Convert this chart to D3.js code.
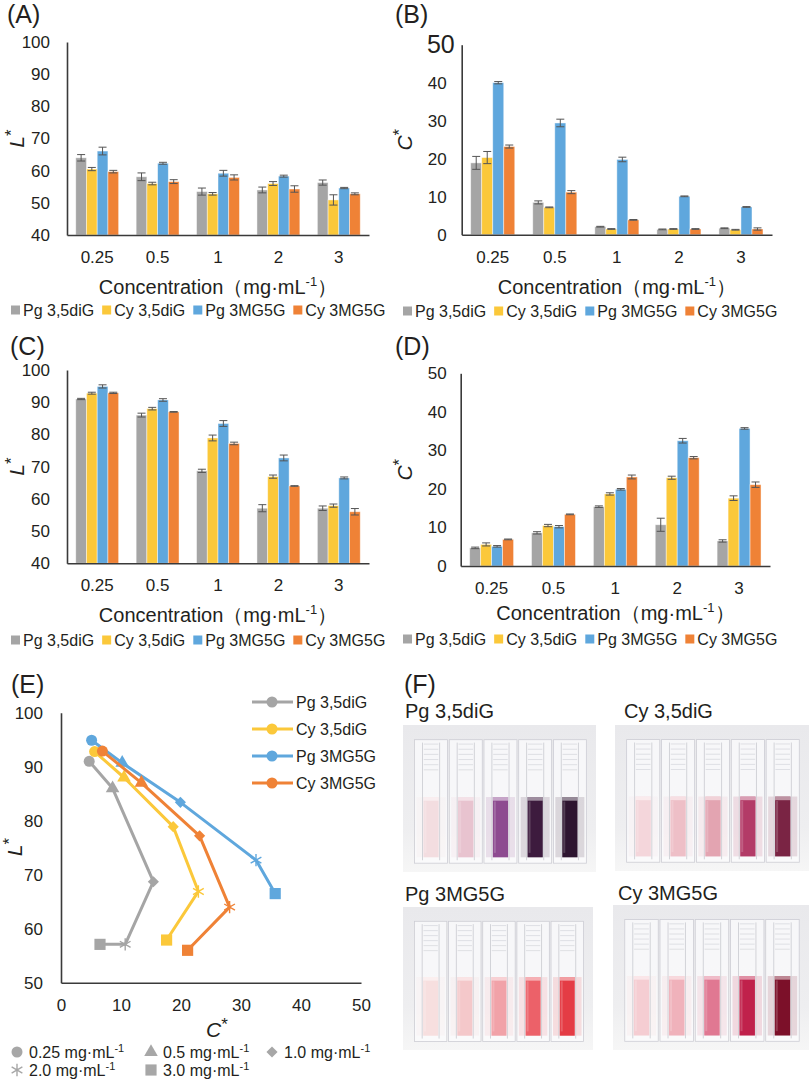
<!DOCTYPE html>
<html>
<head>
<meta charset="utf-8">
<script src="https://cdn.jsdelivr.net/npm/d3@7"></script>
<style>
  body { margin: 0; background: #fff; }
  svg { font-family: "Liberation Sans", Arial, Helvetica, sans-serif; }
</style>
</head>
<body>
<svg id="fig" width="810" height="1080"></svg>
<script>
// ---- data ----
var concentrations = ["0.25", "0.5", "1", "2", "3"];
var seriesNames = ["Pg 3,5diG", "Cy 3,5diG", "Pg 3MG5G", "Cy 3MG5G"];
var seriesColors = ["#a5a5a5", "#fbc83a", "#5fa7dd", "#ef8236"];
var lightTicks = [40, 50, 60, 70, 80, 90, 100];
var chromaTicks = [0, 10, 20, 30, 40, 50];

// (A) L*  (one row per series, one value per concentration)
var lightA = [
  [64.0, 58.1, 53.5, 54.0, 56.3],
  [60.5, 56.0, 52.8, 56.0, 50.9],
  [66.1, 62.3, 59.2, 58.3, 54.6],
  [59.7, 56.6, 57.9, 54.3, 52.8]
];
var lightAErr = [
  [1.0, 1.2, 1.1, 0.9, 0.8],
  [0.5, 0.4, 0.4, 0.6, 1.6],
  [1.2, 0.3, 0.9, 0.3, 0.2],
  [0.4, 0.6, 0.8, 1.0, 0.3]
];
// (B) C*
var chromaB = [
  [18.9, 8.5, 2.1, 1.4, 1.7],
  [20.3, 7.2, 1.5, 1.5, 1.3],
  [40.0, 29.4, 19.8, 10.1, 7.3],
  [23.2, 11.2, 3.9, 1.5, 1.5]
];
var chromaBErr = [
  [1.7, 0.4, 0.1, 0.1, 0.1],
  [1.6, 0.1, 0.1, 0.1, 0.1],
  [0.3, 1.0, 0.6, 0.1, 0.1],
  [0.4, 0.4, 0.1, 0.1, 0.3]
];
// (C) L*
var lightC = [
  [91.0, 86.0, 68.7, 57.1, 57.1],
  [92.8, 88.0, 78.9, 66.9, 57.9],
  [94.9, 90.7, 83.4, 72.7, 66.5],
  [92.9, 87.0, 77.2, 64.0, 56.0]
];
var lightCErr = [
  [0.2, 0.6, 0.5, 1.1, 0.7],
  [0.3, 0.4, 0.9, 0.5, 0.5],
  [0.5, 0.4, 0.9, 0.9, 0.3],
  [0.2, 0.1, 0.4, 0.1, 1.0]
];
// (D) C*
var chromaD = [
  [4.7, 8.6, 15.4, 10.7, 6.5],
  [5.6, 10.5, 18.7, 22.9, 17.6],
  [5.1, 10.2, 19.9, 32.5, 35.7],
  [6.9, 13.4, 23.1, 28.1, 21.1]
];
var chromaDErr = [
  [0.2, 0.3, 0.2, 1.7, 0.3],
  [0.4, 0.3, 0.3, 0.4, 0.6],
  [0.2, 0.3, 0.2, 0.6, 0.2],
  [0.1, 0.1, 0.5, 0.3, 0.7]
];
// (E) markers per concentration
var concLabels = ["0.25 mg·mL", "0.5 mg·mL", "1.0 mg·mL", "2.0 mg·mL", "3.0 mg·mL"];
var concMarkers = ["circle", "triangle", "diamond", "star", "square"];
var eXTicks = [0, 10, 20, 30, 40, 50];
var eYTicks = [50, 60, 70, 80, 90, 100];
// (F) cuvette colours, dilute -> concentrated
var photoColors = [
  ["#f3dde0", "#e8c3cf", "#8d4b90", "#3d1b3e", "#2d1530"],
  ["#f4d6db", "#eebfc7", "#e3a4b1", "#b33b67", "#7a2444"],
  ["#f7dfdf", "#f4c8ca", "#f1a2a8", "#ec6169", "#e43c45"],
  ["#f5cdd2", "#f0b2bb", "#e07892", "#c0214b", "#7c1029"]
];

var ink = "#231f20";
var axisInk = "#3a3a3a";
var svg = d3.select("#fig");

function styleAxis(g, size) {
  g.attr("font-size", null).attr("font-family", null);
  g.select(".domain").attr("stroke", axisInk).attr("stroke-width", 1.6);
  g.selectAll(".tick line").remove();
  g.selectAll(".tick text").attr("fill", ink).attr("font-size", size);
}

function yLabel(letter, x, y) {
  var t = svg.append("text")
    .attr("transform", "translate(" + x + "," + y + ") rotate(-90)")
    .attr("text-anchor", "middle")
    .attr("font-size", 21)
    .attr("fill", ink);
  t.append("tspan").attr("font-style", "italic").text(letter);
  t.append("tspan").attr("dy", -7).attr("font-size", 17).text("*");
}

function panelLetter(txt, x, y) {
  svg.append("text").attr("x", x).attr("y", y)
    .attr("font-size", 25).attr("fill", ink).text(txt);
}

function concTitle(cx, y) {
  var t = svg.append("text").attr("x", cx).attr("y", y)
    .attr("text-anchor", "middle").attr("font-size", 20).attr("fill", ink);
  t.append("tspan").text("Concentration（mg·mL");
  t.append("tspan").attr("dy", -8).attr("font-size", 13).text("-1");
  t.append("tspan").attr("dy", 8).text("）");
}

function barLegend(x0, yc) {
  var x = x0;
  seriesNames.forEach(function(name, i) {
    svg.append("rect").attr("x", x).attr("y", yc - 4.5)
      .attr("width", 9).attr("height", 9).attr("fill", seriesColors[i]);
    var t = svg.append("text").attr("x", x + 12).attr("y", yc).attr("dy", "0.36em")
      .attr("font-size", 16).attr("fill", ink).text(name);
    x += 12 + t.node().getComputedTextLength() + 8;
  });
}

function barPanel(p) {
  var g = svg.append("g");
  var x = d3.scaleBand().domain(concentrations).range([p.left, p.right])
    .paddingInner(0.29).paddingOuter(0.145);
  var xs = d3.scaleBand().domain(d3.range(seriesNames.length)).range([0, x.bandwidth()]);
  var y = d3.scaleLinear().domain(p.domain).range([p.bottom, p.top]);

  var rows = [];
  p.values.forEach(function(arr, i) {
    arr.forEach(function(v, j) {
      rows.push({s: i, c: concentrations[j], v: v, e: p.errors[i][j]});
    });
  });

  g.selectAll("rect.bar").data(rows).enter().append("rect")
    .attr("class", "bar")
    .attr("x", function(d) { return x(d.c) + xs(d.s); })
    .attr("y", function(d) { return y(d.v); })
    .attr("width", xs.bandwidth())
    .attr("height", function(d) { return y(p.domain[0]) - y(d.v); })
    .attr("fill", function(d) { return seriesColors[d.s]; })
    .attr("stroke", "#ffffff").attr("stroke-opacity", 0.55).attr("stroke-width", 0.8);

  var err = g.selectAll("g.err").data(rows).enter().append("g")
    .attr("class", "err")
    .attr("stroke", "#555").attr("stroke-width", 1);
  err.append("line")
    .attr("x1", function(d) { return x(d.c) + xs(d.s) + xs.bandwidth() / 2; })
    .attr("x2", function(d) { return x(d.c) + xs(d.s) + xs.bandwidth() / 2; })
    .attr("y1", function(d) { return y(d.v - d.e); })
    .attr("y2", function(d) { return y(d.v + d.e); });
  [-1, 1].forEach(function(sgn) {
    err.append("line")
      .attr("x1", function(d) { return x(d.c) + xs(d.s) + xs.bandwidth() / 2 - 4; })
      .attr("x2", function(d) { return x(d.c) + xs(d.s) + xs.bandwidth() / 2 + 4; })
      .attr("y1", function(d) { return y(d.v + sgn * d.e); })
      .attr("y2", function(d) { return y(d.v + sgn * d.e); });
  });

  var ya = g.append("g").attr("transform", "translate(" + p.left + ",0)")
    .call(d3.axisLeft(y).tickValues(p.ticks).tickSize(0).tickSizeOuter(0).tickPadding(p.yPad));
  styleAxis(ya, 17);
  if (p.bigTop) {
    ya.selectAll(".tick text").filter(function(d) { return d === p.domain[1]; })
      .attr("font-size", 25).attr("x", -7);
  }
  var xa = g.append("g").attr("transform", "translate(0," + p.bottom + ")")
    .call(d3.axisBottom(x).tickSize(0).tickSizeOuter(0).tickPadding(p.xPad));
  styleAxis(xa, 17);

  yLabel(p.yTitle, p.yTitleX, (p.top + p.bottom) / 2);
  concTitle((p.left + p.right) / 2, p.titleY);
  barLegend(p.legendX, p.legendY);
  panelLetter(p.letter, p.letterX, p.letterY);
}

barPanel({letter: "(A)", letterX: 7, letterY: 23, left: 67, right: 369, top: 42, bottom: 235,
  domain: [40, 100], ticks: lightTicks, values: lightA, errors: lightAErr, yPad: 17, xPad: 16,
  yTitle: "L", yTitleX: 24, titleY: 294, legendX: 11, legendY: 310});
barPanel({letter: "(B)", letterX: 395, letterY: 23, left: 461.7, right: 772, top: 44.7, bottom: 234.7,
  domain: [0, 50], ticks: chromaTicks, values: chromaB, errors: chromaBErr, yPad: 15, xPad: 16,
  yTitle: "C", yTitleX: 412, titleY: 294, legendX: 403, legendY: 311, bigTop: true});
barPanel({letter: "(C)", letterX: 10, letterY: 355, left: 67, right: 369, top: 370, bottom: 563.3,
  domain: [40, 100], ticks: lightTicks, values: lightC, errors: lightCErr, yPad: 17, xPad: 16,
  yTitle: "L", yTitleX: 24, titleY: 622, legendX: 11, legendY: 640});
barPanel({letter: "(D)", letterX: 395, letterY: 355, left: 460.7, right: 770, top: 373.3, bottom: 566,
  domain: [0, 50], ticks: chromaTicks, values: chromaD, errors: chromaDErr, yPad: 14, xPad: 16,
  yTitle: "C", yTitleX: 412, titleY: 620, legendX: 403, legendY: 639});

// ---- (E) L* vs C* ----
var asterisk = {
  draw: function(ctx, size) {
    var r = Math.sqrt(size) * 0.62, t = r / 2, u = t * Math.sqrt(3);
    ctx.moveTo(0, r); ctx.lineTo(0, -r);
    ctx.moveTo(-u, -t); ctx.lineTo(u, t);
    ctx.moveTo(-u, t); ctx.lineTo(u, -t);
  }
};
function markerPath(kind) {
  if (kind === "circle") return d3.symbol().type(d3.symbolCircle).size(95)();
  if (kind === "triangle") return d3.symbol().type(d3.symbolTriangle).size(80)();
  if (kind === "diamond") return d3.symbol().type(d3.symbolSquare).size(62)();
  if (kind === "star") return d3.symbol().type(asterisk).size(100)();
  return d3.symbol().type(d3.symbolSquare).size(125)();
}
function drawMarker(g, kind, cx, cy, color) {
  var m = g.append("path").attr("d", markerPath(kind))
    .attr("transform", "translate(" + cx + "," + cy + ")" + (kind === "diamond" ? " rotate(45)" : ""));
  if (kind === "star") m.attr("fill", "none").attr("stroke", color).attr("stroke-width", 1.4);
  else m.attr("fill", color);
}

var eg = svg.append("g");
var ex = d3.scaleLinear().domain([0, 50]).range([61, 361]);
var ey = d3.scaleLinear().domain([50, 100]).range([982.7, 712.7]);
var exa = eg.append("g").attr("transform", "translate(0," + ey(50) + ")")
  .call(d3.axisBottom(ex).tickValues(eXTicks).tickSize(0).tickSizeOuter(0).tickPadding(16));
styleAxis(exa, 17);
var eya = eg.append("g").attr("transform", "translate(" + ex(0) + ",0)")
  .call(d3.axisLeft(ey).tickValues(eYTicks).tickSize(0).tickSizeOuter(0).tickPadding(18));
styleAxis(eya, 17);

var line = d3.line()
  .x(function(d) { return ex(d.c); })
  .y(function(d) { return ey(d.l); });
seriesNames.forEach(function(name, i) {
  var pts = concentrations.map(function(c, j) {
    return {c: chromaD[i][j], l: lightC[i][j], k: concMarkers[j]};
  });
  eg.append("path").datum(pts).attr("d", line)
    .attr("fill", "none").attr("stroke", seriesColors[i]).attr("stroke-width", 3)
    .attr("stroke-linejoin", "round");
  pts.forEach(function(d) { drawMarker(eg, d.k, ex(d.c), ey(d.l), seriesColors[i]); });
});

// series legend (top right)
seriesNames.forEach(function(name, i) {
  var yc = 702 + i * 27;
  eg.append("line").attr("x1", 252).attr("x2", 293).attr("y1", yc).attr("y2", yc)
    .attr("stroke", seriesColors[i]).attr("stroke-width", 3);
  drawMarker(eg, "circle", 272, yc, seriesColors[i]);
  eg.append("text").attr("x", 296).attr("y", yc).attr("dy", "0.36em")
    .attr("font-size", 16).attr("fill", ink).text(name);
});

// axis titles
var ct = eg.append("text").attr("x", 217).attr("y", 1037).attr("text-anchor", "middle")
  .attr("font-size", 21).attr("fill", ink);
ct.append("tspan").attr("font-style", "italic").text("C");
ct.append("tspan").attr("dy", -7).attr("font-size", 17).text("*");
yLabel("L", 22, 847);
panelLetter("(E)", 11, 693);

// concentration marker legend
var legPos = [[17, 1052], [151, 1052], [272, 1052], [17, 1070], [151, 1070]];
concLabels.forEach(function(lbl, j) {
  var p = legPos[j];
  drawMarker(eg, concMarkers[j], p[0], p[1], "#a7a7a7");
  var t = eg.append("text").attr("x", p[0] + 12).attr("y", p[1]).attr("dy", "0.36em")
    .attr("font-size", 16).attr("fill", ink);
  t.append("tspan").text(lbl);
  t.append("tspan").attr("dy", -6).attr("font-size", 11).text("-1");
});

// ---- (F) cuvette photographs ----
var defs = svg.append("defs");
var bg = defs.append("linearGradient").attr("id", "photoBg").attr("x1", 0).attr("x2", 0).attr("y1", 0).attr("y2", 1);
bg.append("stop").attr("offset", "0%").attr("stop-color", "#e9e9ec");
bg.append("stop").attr("offset", "70%").attr("stop-color", "#eeeef0");
bg.append("stop").attr("offset", "100%").attr("stop-color", "#f6f6f6");

var photoBoxes = [[403, 725, 193, 147], [615, 725, 194, 146], [403, 907, 190, 143], [613, 905, 196, 145]];
var photoLabels = [[405, 718], [624, 718], [405, 901], [618, 900]];

function drawPhoto(box, colors) {
  var w = box[2], h = box[3];
  var pg = svg.append("g").attr("transform", "translate(" + box[0] + "," + box[1] + ")");
  pg.append("rect").attr("width", w).attr("height", h).attr("fill", "url(#photoBg)");
  var cx = d3.scaleBand().domain(d3.range(colors.length)).range([w * 0.06, w * 0.95]).paddingInner(0.05);
  var bw = cx.bandwidth();
  var cuv = pg.selectAll("g.cuv").data(colors).enter().append("g")
    .attr("class", "cuv")
    .attr("transform", function(d, j) { return "translate(" + cx(j) + ",0)"; });
  cuv.append("rect").attr("x", 0).attr("y", h * 0.1).attr("width", bw).attr("height", h * 0.84)
    .attr("fill", "#fcfcfd").attr("fill-opacity", 0.7)
    .attr("stroke", "#cdcdd4").attr("stroke-width", 0.8);
  // faint tint of the solution seen through the side walls
  cuv.append("rect").attr("x", bw * 0.06).attr("y", h * 0.49).attr("width", bw * 0.88).attr("height", h * 0.41)
    .attr("fill", function(d) { return d; }).attr("fill-opacity", 0.15);
  [0.24, 0.76].forEach(function(f) {
    cuv.append("line").attr("x1", bw * f).attr("x2", bw * f)
      .attr("y1", h * 0.12).attr("y2", h * 0.92)
      .attr("stroke", "#d2d3d8").attr("stroke-width", 1);
  });
  d3.range(6).forEach(function(k) {
    cuv.append("line").attr("x1", bw * 0.28).attr("x2", bw * 0.72)
      .attr("y1", h * (0.13 + k * 0.035)).attr("y2", h * (0.13 + k * 0.035))
      .attr("stroke", "#d8d9de").attr("stroke-width", 0.8);
  });
  cuv.append("rect").attr("x", bw * 0.27).attr("y", h * 0.49).attr("width", bw * 0.46).attr("height", h * 0.41)
    .attr("fill", function(d) { return d; });
  cuv.append("rect").attr("x", bw * 0.27).attr("y", h * 0.49).attr("width", bw * 0.46).attr("height", h * 0.025)
    .attr("fill", "#ffffff").attr("fill-opacity", 0.5);
  cuv.append("rect").attr("x", bw * 0.3).attr("y", h * 0.52).attr("width", bw * 0.06).attr("height", h * 0.35)
    .attr("fill", "#ffffff").attr("fill-opacity", 0.18);
}

seriesNames.forEach(function(name, i) {
  drawPhoto(photoBoxes[i], photoColors[i]);
  svg.append("text").attr("x", photoLabels[i][0]).attr("y", photoLabels[i][1])
    .attr("font-size", 20).attr("fill", ink).text(name);
});
panelLetter("(F)", 404, 693);
</script>
</body>
</html>
